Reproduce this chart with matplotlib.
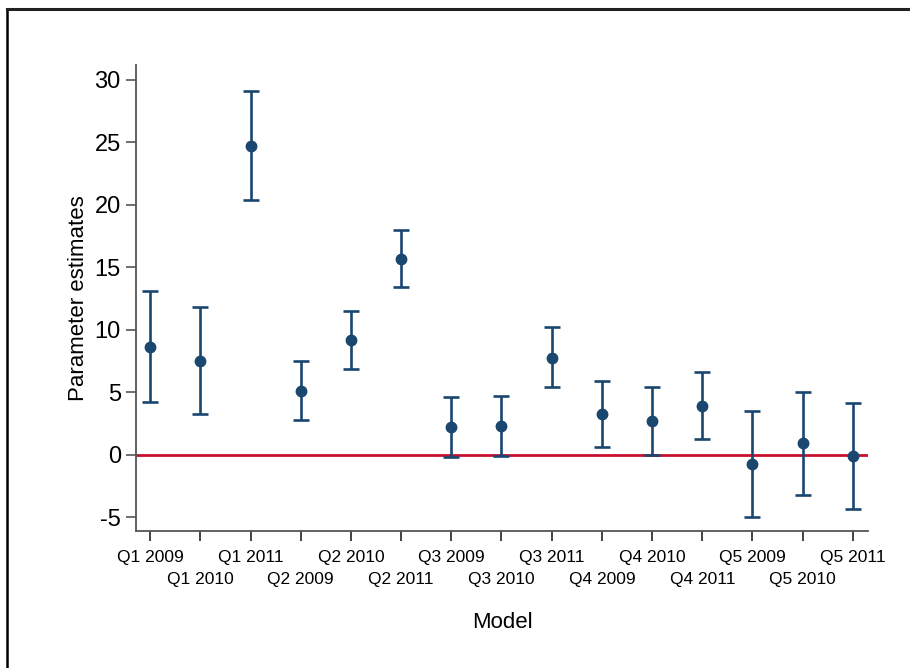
import matplotlib.pyplot as plt
from matplotlib.lines import Line2D

plt.rcParams['font.family'] = ['Liberation Sans', 'DejaVu Sans']
plt.rcParams['axes.unicode_minus'] = False

NAVY = "#1a476f"
RED = "#c8102e"
GREY = "#555555"

models = ["Q1 2009", "Q1 2010", "Q1 2011", "Q2 2009", "Q2 2010", "Q2 2011",
          "Q3 2009", "Q3 2010", "Q3 2011", "Q4 2009", "Q4 2010", "Q4 2011",
          "Q5 2009", "Q5 2010", "Q5 2011"]
estimate = [8.65, 7.5, 24.7, 5.1, 9.2, 15.7,
            2.2, 2.3, 7.75, 3.3, 2.7, 3.95,
            -0.72, 0.98, -0.05]
lower = [4.2, 3.25, 20.4, 2.8, 6.9, 13.4,
         -0.13, -0.08, 5.4, 0.6, 0.03, 1.25,
         -5.0, -3.2, -4.3]
upper = [13.1, 11.8, 29.1, 7.5, 11.5, 18.0,
         4.6, 4.7, 10.2, 5.95, 5.45, 6.6,
         3.55, 5.07, 4.13]

x = list(range(1, len(models) + 1))
err_lo = [e - l for e, l in zip(estimate, lower)]
err_hi = [u - e for e, u in zip(estimate, upper)]

fig = plt.figure(figsize=(9.1, 6.68), dpi=100)
ax = fig.add_axes([0.1495, 0.2051, 0.8043, 0.6976])

ax.axhline(0, color=RED, lw=2.0, zorder=1)
ax.errorbar(x, estimate, yerr=[err_lo, err_hi], fmt="o", color=NAVY,
            ms=7.5, elinewidth=1.9, capsize=5.5, capthick=1.9, zorder=3)

ax.set_xlim(0.72, 15.3)
ax.set_ylim(-6.08, 31.2)
ax.set_yticks([-5, 0, 5, 10, 15, 20, 25, 30])

# alternate labels on two rows: first row on major ticks, second on minor
ax.set_xticks(x[::2])
ax.set_xticklabels(models[::2], fontsize=12.5)
ax.set_xticks(x[1::2], minor=True)
ax.set_xticklabels(models[1::2], minor=True, fontsize=12.5)

for side in ("top", "right"):
    ax.spines[side].set_visible(False)
for side in ("left", "bottom"):
    ax.spines[side].set_color(GREY)
    ax.spines[side].set_linewidth(1.3)

ax.tick_params(axis="y", labelsize=17, length=7, width=1.2, color=GREY, pad=4)
ax.tick_params(axis="x", which="major", length=7, width=1.2, color="#222222", pad=7)
ax.tick_params(axis="x", which="minor", length=7, width=1.2, color="#222222", pad=22.5)

ax.set_ylabel("Parameter estimates", fontsize=16, labelpad=4)
ax.set_xlabel("Model", fontsize=16, labelpad=18)

# outer frame of the screenshot (left and top edges)
fig.add_artist(Line2D([0.008, 0.008], [0.0, 0.987], transform=fig.transFigure,
                      color="black", lw=1.8))
fig.add_artist(Line2D([0.008, 1.0], [0.987, 0.987], transform=fig.transFigure,
                      color="#222222", lw=2.2))

fig.savefig("out.png", dpi=100, facecolor="white")
